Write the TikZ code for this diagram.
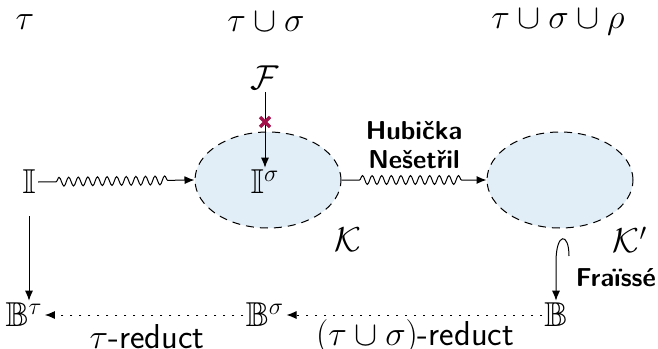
\documentclass[tikz,border=0pt]{standalone}
\usepackage{amssymb}
\usetikzlibrary{arrows.meta,decorations.pathmorphing,shapes.geometric,calc}
\definecolor{setfill}{HTML}{E1EDF7}
\definecolor{crossred}{HTML}{A3134B}
\begin{document}
\begin{tikzpicture}[x=0.5pt,y=-0.5pt,
  every node/.style={font=\fontsize{17.28}{20}\sffamily},
  lbl/.style={inner sep=1pt},
  setell/.style={draw,dash pattern=on 4pt off 3pt,line width=0.5pt,fill=setfill,ellipse,minimum width=73pt,minimum height=48pt,inner sep=0pt},
  arr/.style={-{Latex[length=5pt,width=4pt]},line width=0.5pt},
  wavy/.style={arr,decorate,decoration={snake,amplitude=2.2pt,segment length=4.8pt,pre length=9pt,post length=11pt}},
  redarr/.style={arr,dash pattern=on 1pt off 3.5pt,line width=0.5pt},
  boldlbl/.style={font=\fontsize{14.4}{15}\sffamily\bfseries,align=center,inner sep=1pt,scale=0.9,transform shape}
]
\useasboundingbox (0,0) rectangle (658,348);
% column headers
\node[lbl] (h1) at (25,22) {$\tau$};
\node[lbl] (h2) at (266,22) {$\tau\cup\sigma$};
\node[lbl] (h3) at (558,22) {$\tau\cup\sigma\cup\rho$};
% ellipses
\node[setell] (K) at (268,180) {};
\node[setell] (Kp) at (560,180) {};
\node[lbl] (Klab) at (348,240) {$\mathcal{K}$};
\node[lbl] (Kplab) at (630,240) {$\mathcal{K}'$};
% nodes
\node[lbl] (F) at (265,78) {$\mathcal{F}$};
\node[lbl] (Isig) at (265,182) {$\mathbb{I}^\sigma$};
\node[lbl] (I) at (29,182) {$\mathbb{I}$};
\node[lbl] (Btau) at (24,315) {$\mathbb{B}^\tau$};
\node[lbl] (Bsig) at (265,315) {$\mathbb{B}^\sigma$};
\node[lbl] (B) at (556,315) {$\mathbb{B}$};
% F arrow with red cross
\draw[arr] (F.south) -- (Isig.north);
\coordinate (X) at (265,122);
\draw[crossred,line width=1.6pt] ($(X)+(-5,-5)$) -- ($(X)+(5,5)$) ($(X)+(-5,5)$) -- ($(X)+(5,-5)$);
% snake arrows
\draw[wavy] (I.east) -- (K.west);
\draw[wavy] (K.east) -- (Kp.west);
\node[boldlbl,anchor=south] (HN) at (414,171) {Hubička\\[1pt]Nešetřil};
% vertical arrow I to Btau
\draw[arr,shorten <=10pt] (I.south) -- (I.south |- Btau.north);
% Fraisse hook
\coordinate (hs) at (569,256);
\draw[arr] (hs) .. controls (569,232) and (556,232) .. (556,262) -- (B.north);
\node[boldlbl,anchor=east] (Fr) at (658,278) {Fraïssé};
% dotted reduct arrows
\draw[redarr] (B.west) -- (Bsig.east);
\draw[redarr] (Bsig.west) -- (Btau.east);
\node[lbl] (r1) at (147,337) {$\tau$-reduct};
\node[lbl] (r2) at (415,337) {$(\tau\cup\sigma)$-reduct};
\end{tikzpicture}
\end{document}
